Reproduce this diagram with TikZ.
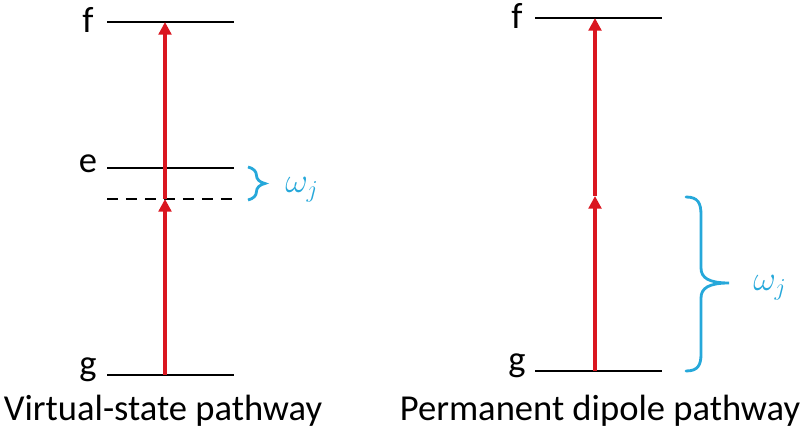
\documentclass[tikz,border=0pt]{standalone}
\usepackage{fontspec}
\setmainfont{Carlito}
\usetikzlibrary{arrows.meta,decorations.pathreplacing}
\definecolor{photonred}{RGB}{218,22,32}
\definecolor{braceblue}{RGB}{38,168,218}
\begin{document}
\begin{tikzpicture}[x=0.025cm,y=-0.025cm,
	level/.style={line width=1.7pt},
	virtual/.style={level,dash pattern=on 8pt off 5.5pt},
	photon/.style={draw=photonred,line width=2.6pt,-{Triangle[length=9pt,width=9pt]}},
	gap/.style={draw=braceblue,line width=2pt,decorate,decoration={brace,amplitude=#1}},
	bigbrace/.style={draw=braceblue,line width=2pt,line cap=round},
	lbl/.style={font=\fontsize{26}{30}\selectfont},
	freq/.style={text=braceblue,font=\fontsize{27}{31}\selectfont}]
	\useasboundingbox (0,0) rectangle (802,438);
	% Virtual-state pathway
	\coordinate (fL1) at (107,22);   \coordinate (fL2) at (234,22);
	\coordinate (eL1) at (107,168);  \coordinate (eL2) at (234,168);
	\coordinate (vL1) at (107,199);  \coordinate (vL2) at (234,199);
	\coordinate (gL1) at (107,375);  \coordinate (gL2) at (234,375);
	\coordinate (fLa) at (165,22);
	\coordinate (vLa) at (165,199);
	\coordinate (gLa) at (165,375);
	\draw[level] (fL1) -- (fL2);
	\draw[level] (eL1) -- (eL2);
	\draw[virtual] (vL1) -- (vL2);
	\draw[level] (gL1) -- (gL2);
	\node[lbl] (fLlab) at (88,20) {f};
	\node[lbl] (eLlab) at (88,164) {e};
	\node[lbl] (gLlab) at (88,370) {g};
	\draw[photon] (gLa) -- (vLa);
	\draw[photon] (vLa) -- (fLa);
	\coordinate (bL1) at (248,167);  \coordinate (bL2) at (248,200);
	\draw[gap=12pt] (bL1) -- (bL2);
	\node[freq] (wL) at (302,190) {$\omega_j$};
	\node[lbl] (capL) at (163,411) {Virtual-state pathway};
	% Permanent dipole pathway
	\coordinate (fR1) at (535,18);   \coordinate (fR2) at (662,18);
	\coordinate (gR1) at (535,371);  \coordinate (gR2) at (662,371);
	\coordinate (fRa) at (595,18);
	\coordinate (mRa) at (595,196);
	\coordinate (gRa) at (595,371);
	\draw[level] (fR1) -- (fR2);
	\draw[level] (gR1) -- (gR2);
	\node[lbl] (fRlab) at (517,16) {f};
	\node[lbl] (gRlab) at (517,366) {g};
	\draw[photon] (gRa) -- (mRa);
	\draw[photon] (mRa) -- (fRa);
	% brace
	\coordinate (bR1) at (686,197);  \coordinate (bR2) at (686,371);
	\coordinate (bRt) at (729,283);
	\draw[bigbrace] (bR1) .. controls (698,197) and (701,203) .. (701,215) -- (701,268)
		.. controls (701,278) and (709,283) .. (bRt)
		.. controls (709,283) and (701,288) .. (701,298) -- (701,354)
		.. controls (701,365) and (698,371) .. (bR2);
	\node[freq] (wR) at (770,288) {$\omega_j$};
	\node[lbl] (capR) at (600,411) {Permanent dipole pathway};
\end{tikzpicture}
\end{document}
